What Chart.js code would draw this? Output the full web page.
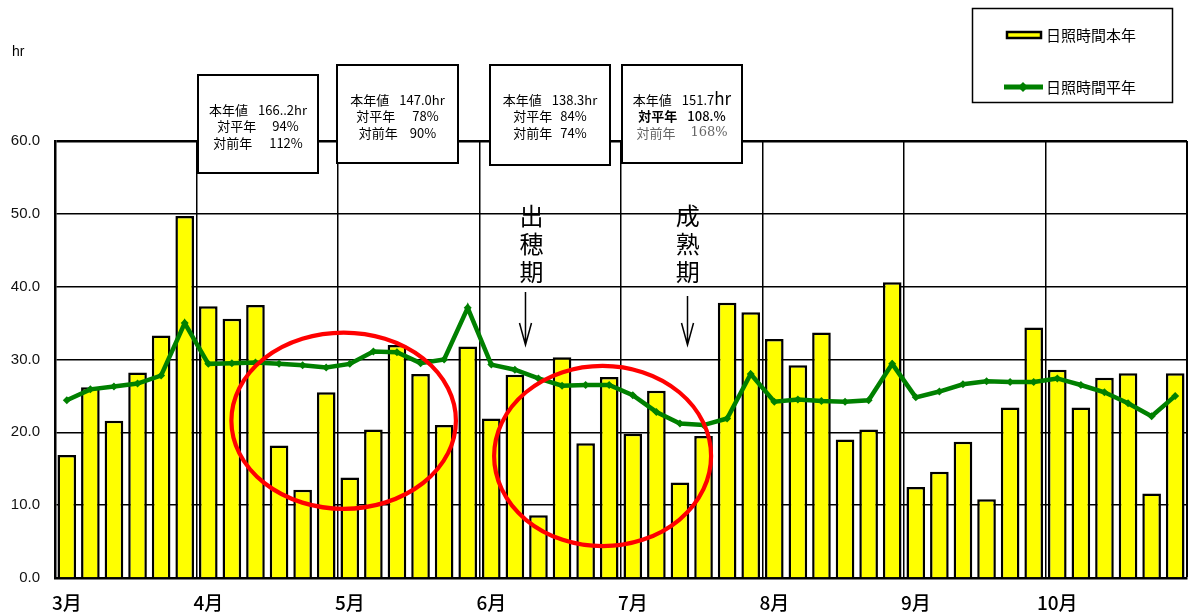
<!DOCTYPE html>
<html>
<head>
<meta charset="utf-8">
<script src="https://cdn.jsdelivr.net/npm/chart.js@4.4.1/dist/chart.umd.min.js"></script>
<style>
  html, body { margin: 0; padding: 0; background: #fff; overflow: hidden; }
  #wrap { position: relative; width: 1191px; height: 612px; }
</style>
</head>
<body>
<div id="wrap"><canvas id="chart"></canvas></div>
<script>
// Months on the x axis; each month is split into six pentads (半旬)
const months = ['3月', '4月', '5月', '6月', '7月', '8月', '9月', '10月'];
const pentadsPerMonth = 6;

// Sunshine hours per pentad, this year (日照時間本年)
const sunshineThisYear = [
  16.9, 26.2, 21.6, 28.2, 33.3, 49.7,
  37.3, 35.6, 37.5, 18.2, 12.1, 25.5,
  13.8, 20.4, 32.0, 28.0, 21.0, 31.8,
  21.9, 27.9, 8.6, 30.3, 18.5, 27.6,
  19.8, 25.7, 13.1, 19.5, 37.8, 36.5,
  32.8, 29.2, 33.7, 19.0, 20.4, 40.6,
  12.5, 14.6, 18.7, 10.8, 23.4, 34.4,
  28.6, 23.4, 27.5, 28.1, 11.6, 28.1
];

// Sunshine hours per pentad, normal year (日照時間平年)
const sunshineNormal = [
  24.4, 25.9, 26.3, 26.7, 27.8, 35.0,
  29.4, 29.5, 29.6, 29.4, 29.2, 28.9,
  29.4, 31.1, 31.0, 29.5, 30.0, 37.1,
  29.3, 28.6, 27.4, 26.4, 26.5, 26.5,
  25.1, 22.8, 21.2, 21.0, 21.9, 28.0,
  24.2, 24.5, 24.3, 24.2, 24.4, 29.4,
  24.8, 25.6, 26.6, 27.0, 26.9, 26.9,
  27.4, 26.5, 25.5, 24.0, 22.2, 25.0
];

// Y axis range and step
const yMin = 0;
const yMax = 60;
const yStep = 10;

// Series names
const seriesThisYear = '日照時間本年';
const seriesNormal = '日照時間平年';

// Monthly summary texts (label, value)
const summaryApr = [['本年値', '166..2hr'], ['対平年', '94%'], ['対前年', '112%']];
const summaryMay = [['本年値', '147.0hr'], ['対平年', '78%'], ['対前年', '90%']];
const summaryJun = [['本年値', '138.3hr'], ['対平年', '84%'], ['対前年', '74%']];
const summaryJul = [['本年値', '151.7'], ['対平年', '108.%'], ['対前年', '168%']];

// Growth stage notes
const stageHeading = '出穂期';
const stageMaturity = '成熟期';

// Category labels built from the months
const pentadLabels = months.flatMap(m =>
  Array.from({ length: pentadsPerMonth }, (_, p) => `${m}${p + 1}半旬`));

const CJK = "'Noto Sans CJK JP', 'Noto Sans', sans-serif";
const LATIN = "'Liberation Sans', Arial, sans-serif";

// Layout of the decorations around the plot
const boxLayout = [
  { rows: summaryApr, x: 198, y: 75, w: 120, h: 98, gaps: [10, 16, 17] },
  { rows: summaryMay, x: 337, y: 65, w: 121, h: 98, gaps: [10, 17, 12] },
  { rows: summaryJun, x: 490, y: 65, w: 120, h: 100, gaps: [10, 8, 8] },
  { rows: summaryJul, x: 622, y: 65, w: 120, h: 98, gaps: [10, 10, 15], special: true }
];
const stageLayout = [
  { text: stageHeading, textAt: 19.7, arrowAt: 19.45, arrowTop: 292 },
  { text: stageMaturity, textAt: 26.33, arrowAt: 26.32, arrowTop: 296 }
];
// ellipses in data units: centre index / value, radii in categories / hours
const ellipseLayout = [
  { cx: 11.74, cy: 21.6, rx: 4.76, ry: 12.1 },
  { cx: 22.72, cy: 16.75, rx: 4.6, ry: 12.38 }
];

function drawDiamond(ctx, x, y, r) {
  ctx.beginPath();
  ctx.moveTo(x, y - r);
  ctx.lineTo(x + r, y);
  ctx.lineTo(x, y + r);
  ctx.lineTo(x - r, y);
  ctx.closePath();
  ctx.fill();
}

const decorations = {
  id: 'decorations',
  afterDatasetsDraw(chart) {
    const { ctx, scales: { x, y } } = chart;
    const catW = x.getPixelForValue(1) - x.getPixelForValue(0);
    const unitH = y.getPixelForValue(0) - y.getPixelForValue(1);
    ctx.save();
    // red circles marking the dull periods
    ctx.strokeStyle = '#ff0000';
    ctx.lineWidth = 4.2;
    ellipseLayout.forEach(e => {
      ctx.beginPath();
      ctx.ellipse(x.getPixelForValue(e.cx), y.getPixelForValue(e.cy),
        e.rx * catW, e.ry * unitH, 0, 0, Math.PI * 2);
      ctx.stroke();
    });
    // growth stage labels with arrows
    ctx.fillStyle = '#000';
    ctx.strokeStyle = '#000';
    ctx.font = `24px ${CJK}`;
    ctx.textAlign = 'center';
    ctx.textBaseline = 'middle';
    stageLayout.forEach(s => {
      const tx = x.getPixelForValue(s.textAt);
      [...s.text].forEach((ch, i) => ctx.fillText(ch, tx, 216 + i * 28));
      const ax = x.getPixelForValue(s.arrowAt);
      ctx.lineWidth = 1.5;
      ctx.beginPath();
      ctx.moveTo(ax, s.arrowTop);
      ctx.lineTo(ax, 345);
      ctx.moveTo(ax - 6, 323);
      ctx.lineTo(ax, 345);
      ctx.lineTo(ax + 6, 323);
      ctx.stroke();
    });
    ctx.restore();
  },
  afterDraw(chart) {
    const { ctx } = chart;
    ctx.save();
    // unit label
    ctx.fillStyle = '#000';
    ctx.font = `14px ${LATIN}`;
    ctx.textAlign = 'left';
    ctx.textBaseline = 'middle';
    ctx.fillText('hr', 12, 52);

    // monthly summary boxes
    boxLayout.forEach(b => {
      ctx.fillStyle = '#fff';
      ctx.fillRect(b.x, b.y, b.w, b.h);
      ctx.strokeStyle = '#000';
      ctx.lineWidth = 2;
      ctx.strokeRect(b.x, b.y, b.w, b.h);
      const cx = b.x + b.w / 2;
      b.rows.forEach((row, i) => {
        const ly = b.y + 35 + i * 16.5;
        let labelFont = `13px ${CJK}`;
        let valueFont = `13px ${CJK}`;
        let color = '#000';
        let suffix = '';
        if (b.special && i === 0) { suffix = 'hr'; }
        if (b.special && i === 1) { labelFont = `bold 13px ${CJK}`; valueFont = `500 13px ${CJK}`; }
        if (b.special && i === 2) { color = '#666'; valueFont = `13px 'DejaVu Serif', serif`; }
        ctx.font = labelFont;
        const wl = ctx.measureText(row[0]).width;
        ctx.font = valueFont;
        const wv = ctx.measureText(row[1]).width;
        ctx.font = `17px ${CJK}`;
        const ws = suffix ? ctx.measureText(suffix).width : 0;
        const start = cx - (wl + b.gaps[i] + wv + ws) / 2;
        ctx.fillStyle = color;
        ctx.textAlign = 'left';
        ctx.textBaseline = 'middle';
        ctx.font = labelFont;
        ctx.fillText(row[0], start, ly);
        ctx.font = valueFont;
        ctx.fillText(row[1], start + wl + b.gaps[i], ly);
        if (suffix) {
          ctx.font = `17px ${CJK}`;
          ctx.fillText(suffix, start + wl + b.gaps[i] + wv, ly - 1);
        }
      });
    });

    // legend
    ctx.fillStyle = '#fff';
    ctx.fillRect(972, 8, 201, 95);
    ctx.strokeStyle = '#000';
    ctx.lineWidth = 1.5;
    ctx.strokeRect(972.5, 8.5, 200, 94);
    ctx.fillStyle = '#ffff00';
    ctx.fillRect(1007, 32, 34, 6);
    ctx.lineWidth = 2.5;
    ctx.strokeRect(1007, 32, 34, 6);
    ctx.strokeStyle = '#008000';
    ctx.lineWidth = 5;
    ctx.beginPath();
    ctx.moveTo(1004, 87);
    ctx.lineTo(1043, 87);
    ctx.stroke();
    ctx.fillStyle = '#008000';
    drawDiamond(ctx, 1023, 87, 5);
    ctx.fillStyle = '#000';
    ctx.font = `15px ${CJK}`;
    ctx.textAlign = 'left';
    ctx.textBaseline = 'middle';
    ctx.fillText(seriesThisYear, 1046, 35);
    ctx.fillText(seriesNormal, 1046, 87);
    ctx.restore();
  }
};

new Chart(document.getElementById('chart'), {
  data: {
    labels: pentadLabels,
    datasets: [
      {
        type: 'line',
        label: seriesNormal,
        data: sunshineNormal,
        borderColor: '#008000',
        backgroundColor: '#008000',
        borderWidth: 4.5,
        pointStyle: 'rectRot',
        pointRadius: 4,
        pointBorderWidth: 0,
        pointBackgroundColor: '#008000',
        tension: 0,
        order: 0
      },
      {
        type: 'bar',
        label: seriesThisYear,
        data: sunshineThisYear,
        backgroundColor: '#ffff00',
        borderColor: '#000',
        borderWidth: 2.5,
        barPercentage: 0.79,
        categoryPercentage: 1.0,
        order: 1
      }
    ]
  },
  options: {
    responsive: true,
    maintainAspectRatio: false,
    animation: false,
    events: [],
    layout: { padding: { left: 0, top: 141, right: 1, bottom: 0 } },
    plugins: {
      legend: { display: false },
      tooltip: { enabled: false },
      title: { display: false }
    },
    scales: {
      x: {
        type: 'category',
        offset: true,
        afterFit: s => { s.height = 34; s.paddingLeft = 0; s.paddingRight = 0; },
        grid: {
          offset: true,
          drawTicks: false,
          color: c => (c.index === undefined || c.index % pentadsPerMonth === 0) ? '#000' : 'rgba(0,0,0,0)',
          lineWidth: c => c.index === undefined ? 2 : 1.5
        },
        border: { display: true, color: '#000', width: 2.5 },
        ticks: {
          autoSkip: false,
          maxRotation: 0,
          minRotation: 0,
          padding: 13,
          color: '#000',
          font: { family: CJK, size: 19, weight: '500' },
          callback: (v, i) => i % pentadsPerMonth === 0 ? months[i / pentadsPerMonth] : ''
        }
      },
      y: {
        min: yMin,
        max: yMax,
        afterFit: s => { s.width = 55; },
        grid: {
          drawTicks: false,
          color: '#000',
          lineWidth: c => c.tick && c.tick.value === yMax ? 2.5 : 1.4
        },
        border: { display: true, color: '#000', width: 2.5 },
        ticks: {
          stepSize: yStep,
          padding: 15,
          color: '#111',
          font: { family: LATIN, size: 15 },
          callback: v => Number(v).toFixed(1)
        }
      }
    }
  },
  plugins: [decorations]
});
</script>
</body>
</html>
